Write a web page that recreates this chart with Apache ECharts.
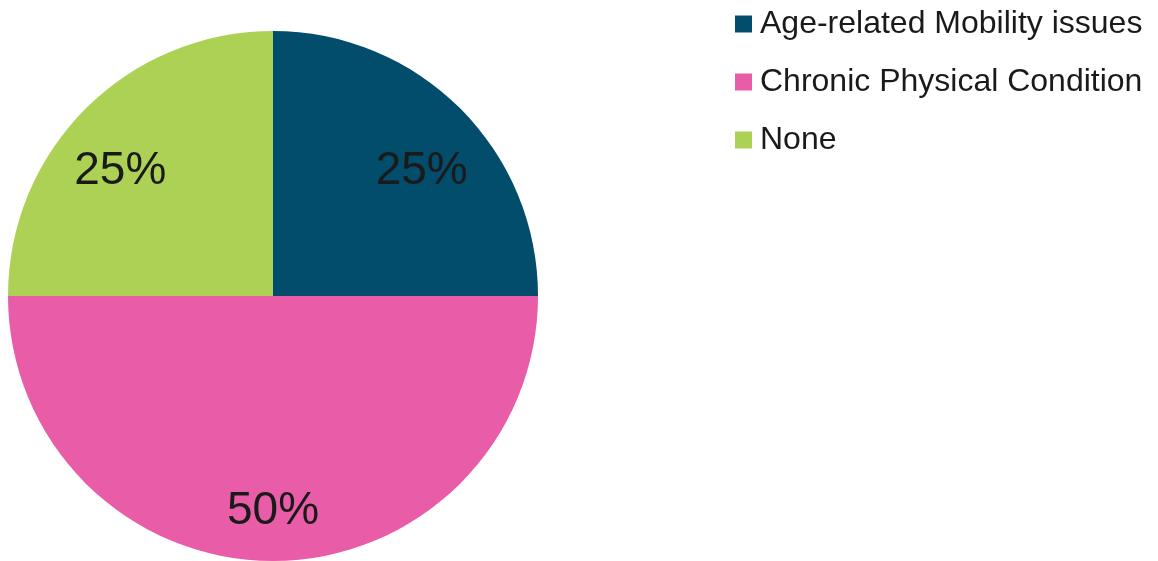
<!DOCTYPE html>
<html>
<head>
<meta charset="utf-8">
<script src="https://cdn.jsdelivr.net/npm/echarts@6/dist/echarts.min.js"></script>
<style>
  html, body { margin: 0; padding: 0; background: #fff; }
  #chart { width: 1158px; height: 561px; }
</style>
</head>
<body>
<div id="chart"></div>
<script>
const categories = ['Age-related Mobility issues', 'Chronic Physical Condition', 'None'];
const shares = [25, 50, 25];
const colors = ['#024d6b', '#e95ca8', '#add155'];

// small nudges so the percentages sit where the original has them
const labelPads = [[0, 0, 0, 16], [0, 0, 0, 0], [0, 24, 0, 0]];

const getPieData = () => categories.map((name, i) => ({
    name: name,
    value: shares[i],
    itemStyle: { color: colors[i] }
}));

const getOption = () => {
    return {
        animation: false,
        textStyle: { fontFamily: '"Liberation Sans", Arial, sans-serif' },
        legend: {
            orient: 'vertical',
            left: 735,
            top: 8,
            padding: 0,
            icon: 'rect',
            itemWidth: 17,
            itemHeight: 17,
            itemGap: 26,
            data: categories,
            textStyle: {
                fontSize: 32,
                lineHeight: 32,
                color: '#1a1a1a',
                padding: [0, 0, 0, 3]
            }
        },
        series: [
            {
                type: 'pie',
                center: [273, 296],
                radius: 265,
                startAngle: 90,
                clockwise: true,
                label: { show: false },
                labelLine: { show: false },
                itemStyle: { borderWidth: 0 },
                emphasis: { disabled: true },
                data: getPieData()
            },
            {
                type: 'pie',
                center: [273, 312],
                radius: [127, 265],
                startAngle: 90,
                clockwise: true,
                silent: true,
                itemStyle: { color: 'transparent', borderWidth: 0 },
                label: {
                    show: true,
                    position: 'inside',
                    formatter: (p) => p.value + '%',
                    fontSize: 46,
                    color: '#1a1a1a',
                    fontFamily: '"Liberation Sans", Arial, sans-serif'
                },
                labelLine: { show: false },
                emphasis: { disabled: true },
                data: shares.map((v, i) => ({
                    name: categories[i],
                    value: v,
                    label: { padding: labelPads[i] }
                }))
            }
        ]
    };
};

const initCharts = () => {
    const chart = echarts.init(document.getElementById('chart'));
    chart.setOption(getOption());
};

window.addEventListener('load', () => {
    initCharts();
});
</script>
</body>
</html>
